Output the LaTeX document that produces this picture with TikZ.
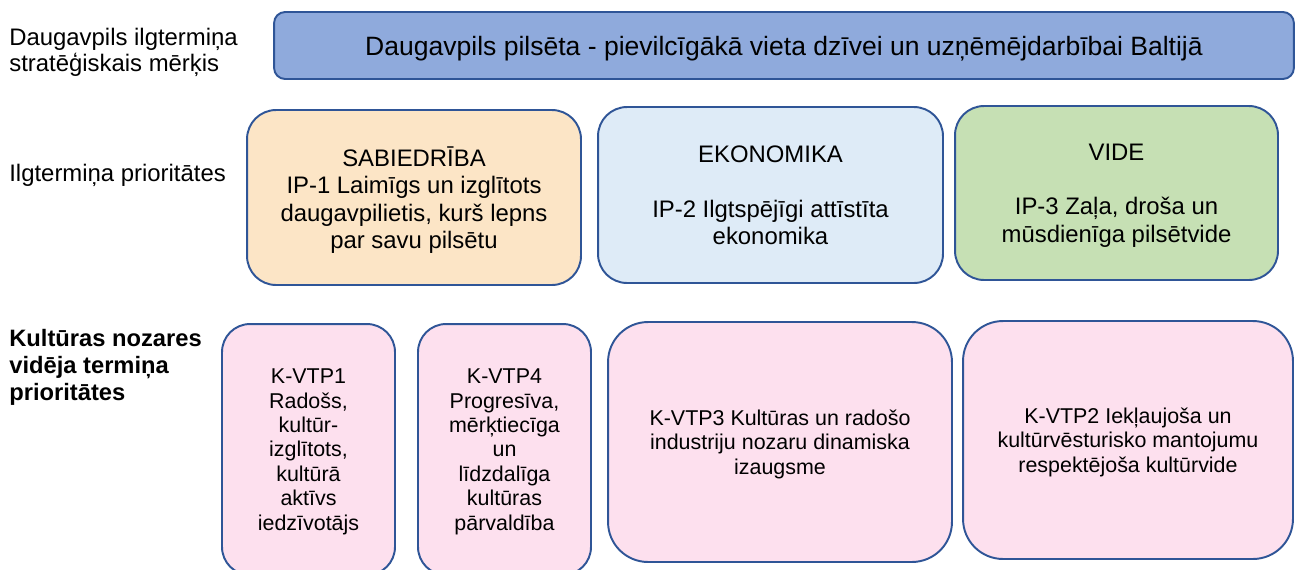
\documentclass[tikz,border=0pt]{standalone}
\usepackage{fontspec}
\setmainfont{Liberation Sans}
\usepackage{tikz}
\usetikzlibrary{positioning}

\definecolor{boxline}{HTML}{2F5597}
\definecolor{goalfill}{HTML}{8FAADC}
\definecolor{socfill}{HTML}{FCE5C6}
\definecolor{ekofill}{HTML}{DEEBF7}
\definecolor{videfill}{HTML}{C6E0B4}
\definecolor{kultfill}{HTML}{FDE0EE}

\tikzset{
  prio/.style={draw=boxline, line width=1.1pt, rounded corners=0.58cm,
    align=center, inner sep=0pt, text depth=0pt,
    font=\fontsize{13.6}{15.6}\selectfont},
  kult/.style={draw=boxline, fill=kultfill, line width=1.1pt,
    align=center, inner sep=0pt, text depth=0pt,
    font=\fontsize{12.2}{13.9}\selectfont},
  lbl/.style={anchor=west, align=left, inner sep=0pt,
    font=\fontsize{13.6}{14.8}\selectfont}
}

\begin{document}
\begin{tikzpicture}[x=0.02cm,y=-0.02cm]
\useasboundingbox (0,0) rectangle (1295,569);

\node[lbl] (lblGoal) at (9,52) {Daugavpils ilgtermiņa\\stratēģiskais mērķis};
\node[lbl] (lblPrio) at (9,175) {Ilgtermiņa prioritātes};
\node[lbl, font=\fontsize{13.5}{15.4}\selectfont\bfseries] (lblKult) at (9,367)
  {Kultūras nozares\\vidēja termiņa\\prioritātes};

\node[prio, fill=goalfill, rounded corners=0.22cm, minimum width=20.4cm,
  minimum height=1.34cm, font=\fontsize{15.1}{17}\selectfont] (goal) at (784,45.5)
  {Daugavpils pilsēta - pievilcīgākā vieta dzīvei un uzņēmējdarbībai Baltijā};

\node[prio, fill=socfill, minimum width=6.68cm, minimum height=3.5cm] (ip1)
  at (414,197.5)
  {SABIEDRĪBA\\IP-1 Laimīgs un izglītots\\daugavpilietis, kurš lepns\\par savu pilsētu};
\node[prio, fill=ekofill, minimum width=6.9cm, minimum height=3.52cm] (ip2)
  at (770.5,195)
  {EKONOMIKA\\[15.6pt]IP-2 Ilgtspējīgi attīstīta\\ekonomika};
\node[prio, fill=videfill, minimum width=6.46cm, minimum height=3.48cm] (ip3)
  at (1116.5,193)
  {VIDE\\[15.6pt]IP-3 Zaļa, droša un\\mūsdienīga pilsētvide};

\node[kult, rounded corners=0.56cm, minimum width=3.46cm, minimum height=5.02cm]
  (kvtp1) at (308.5,449.5)
  {K-VTP1\\Radošs,\\kultūr-\\izglītots,\\kultūrā\\aktīvs\\iedzīvotājs};
\node[kult, rounded corners=0.56cm, minimum width=3.46cm, minimum height=5.02cm]
  (kvtp4) at (504.5,449.5)
  {K-VTP4\\Progresīva,\\mērķtiecīga\\un\\līdzdalīga\\kultūras\\pārvaldība};
\node[kult, rounded corners=0.8cm, minimum width=6.88cm, minimum height=4.8cm]
  (kvtp3) at (780,442)
  {K-VTP3 Kultūras un radošo\\industriju nozaru dinamiska\\izaugsme};
\node[kult, rounded corners=0.8cm, minimum width=6.6cm, minimum height=4.76cm]
  (kvtp2) at (1128,440)
  {K-VTP2 Iekļaujoša un\\kultūrvēsturisko mantojumu\\respektējoša kultūrvide};

\end{tikzpicture}
\end{document}
